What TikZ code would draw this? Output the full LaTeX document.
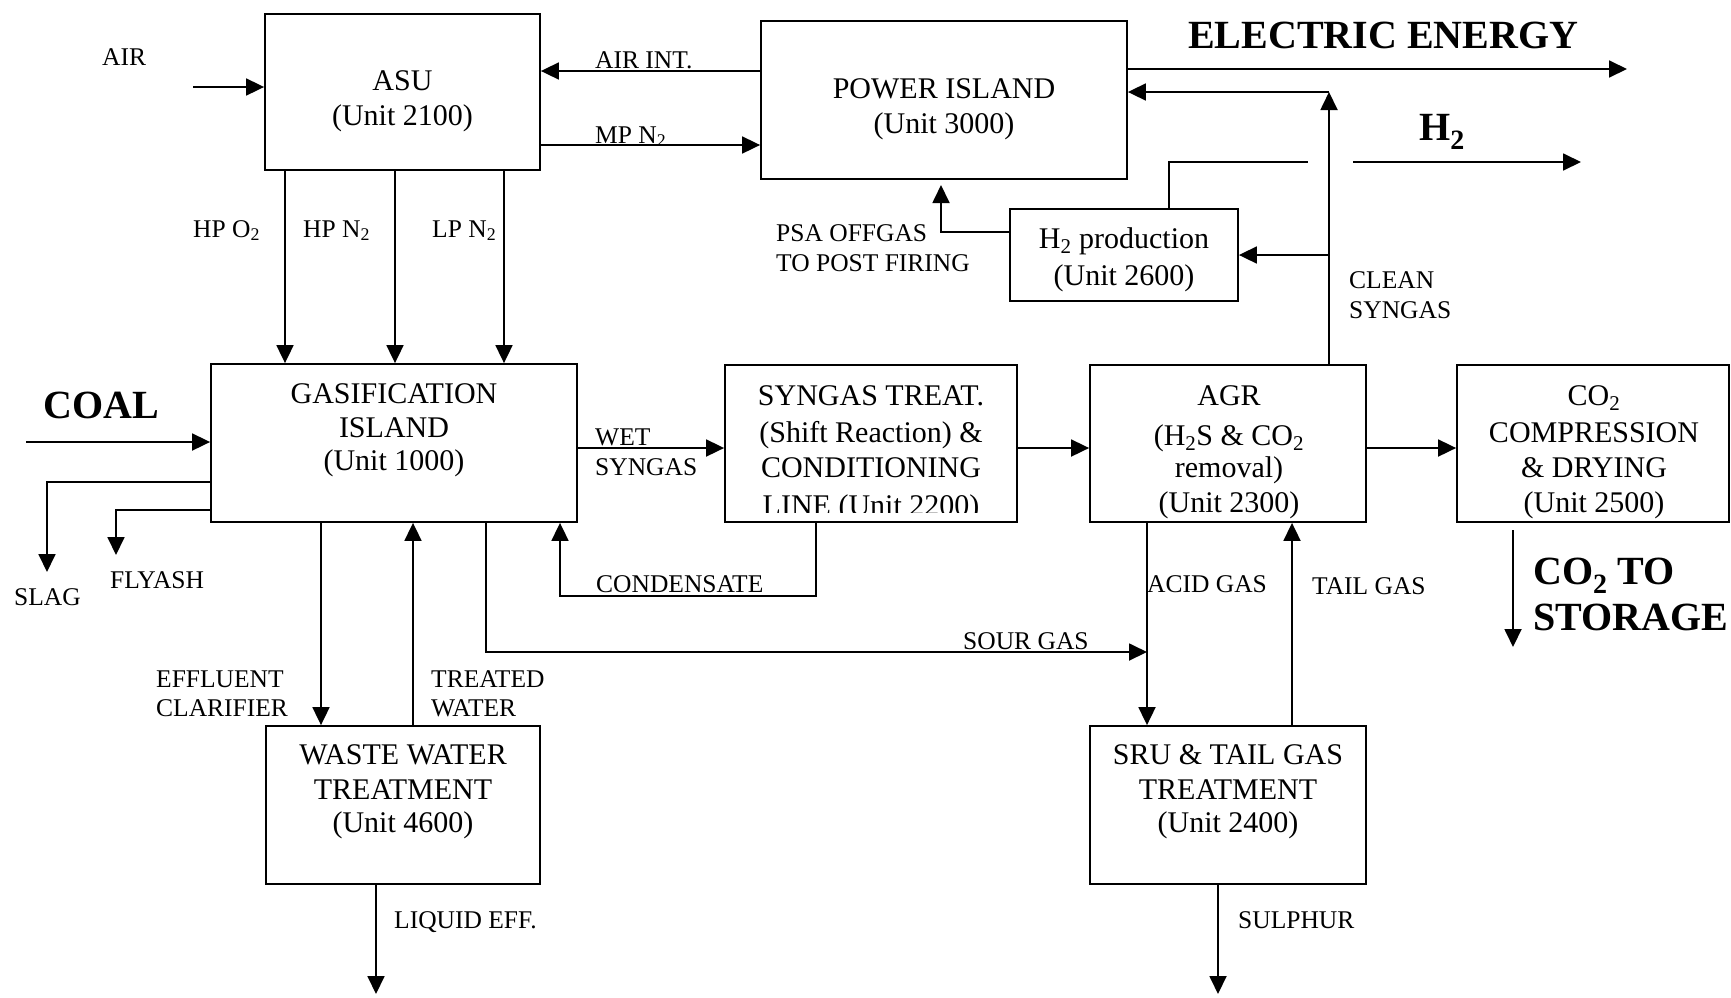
\documentclass[tikz,border=0pt]{standalone}
\usepackage{fontspec}
\setmainfont{Liberation Serif}
\usetikzlibrary{arrows.meta}
\tikzset{
  box/.style={draw, rectangle, line width=1.8pt, inner sep=0pt},
  bt/.style={font=\fontsize{30}{34}\selectfont, anchor=base, inner sep=0pt},
  lt/.style={font=\fontsize{25.5}{30}\selectfont, anchor=base west, inner sep=0pt},
  bigt/.style={font=\fontsize{40}{44}\selectfont\bfseries, anchor=base west, inner sep=0pt},
  ln/.style={line width=1.8pt},
  arr/.style={ln, -{Triangle[length=18pt,width=17pt]}},
}
\begin{document}
\begin{tikzpicture}[x=1pt,y=-1pt]
\useasboundingbox (0,0) rectangle (1731,997);
% boxes
\node[box, minimum width=275pt, minimum height=156pt] (asu) at (402.5,92) {};
\node[box, minimum width=366pt, minimum height=158pt] (power) at (944,100) {};
\node[box, minimum width=228pt, minimum height=92pt] (h2p) at (1124,255) {};
\node[box, minimum width=366pt, minimum height=158pt] (gas) at (394,443) {};
\node[box, minimum width=292pt, minimum height=157pt] (syn) at (871,443.5) {};
\node[box, minimum width=276pt, minimum height=157pt] (agr) at (1228,443.5) {};
\node[box, minimum width=272pt, minimum height=157pt] (co2) at (1593,443.5) {};
\node[box, minimum width=274pt, minimum height=158pt] (wwt) at (403,805) {};
\node[box, minimum width=276pt, minimum height=158pt] (sru) at (1228,805) {};
% box texts
\node[bt] (asuA) at (402.5,90) {ASU};
\node[bt] (asuB) at (402.5,125) {(Unit 2100)};
\node[bt] (powA) at (944,98) {POWER ISLAND};
\node[bt] (powB) at (944,133) {(Unit 3000)};
\node[bt] (h2pA) at (1124,248) {H\textsubscript{2} production};
\node[bt] (h2pB) at (1124,285) {(Unit 2600)};
\node[bt] (gasA) at (394,403) {GASIFICATION};
\node[bt] (gasB) at (394,437) {ISLAND};
\node[bt] (gasC) at (394,470) {(Unit 1000)};
\node[bt] (synA) at (871,405) {SYNGAS TREAT.};
\node[bt] (synB) at (871,442) {(Shift Reaction) \&};
\node[bt] (synC) at (871,477) {CONDITIONING};
\begin{scope}
\clip (725,365) rectangle (1017,512);
\node[bt] (synD) at (871,515) {LINE (Unit 2200)};
\end{scope}
\node[bt] (agrA) at (1229,405) {AGR};
\node[bt] (agrB) at (1229,445) {(H\textsubscript{2}S \& CO\textsubscript{2}};
\node[bt] (agrC) at (1229,477) {removal)};
\node[bt] (agrD) at (1229,512) {(Unit 2300)};
\node[bt] (co2A) at (1594,405) {CO\textsubscript{2}};
\node[bt] (co2B) at (1594,442) {COMPRESSION};
\node[bt] (co2C) at (1594,477) {\& DRYING};
\node[bt] (co2D) at (1594,512) {(Unit 2500)};
\node[bt] (wwtA) at (403,764) {WASTE WATER};
\node[bt] (wwtB) at (403,799) {TREATMENT};
\node[bt] (wwtC) at (403,832) {(Unit 4600)};
\node[bt] (sruA) at (1228,764) {SRU \& TAIL GAS};
\node[bt] (sruB) at (1228,799) {TREATMENT};
\node[bt] (sruC) at (1228,832) {(Unit 2400)};
% labels
\node[lt] (lAir) at (102,65) {AIR};
\node[lt] (lAirInt) at (595,68.5) {AIR INT.};
\node[lt] (lMP) at (595,143) {MP N\textsubscript{2}};
\node[lt] (lHPO) at (193,237) {HP O\textsubscript{2}};
\node[lt] (lHPN) at (303,237) {HP N\textsubscript{2}};
\node[lt] (lLPN) at (432,237) {LP N\textsubscript{2}};
\node[lt] (lPSA1) at (776,241.5) {PSA OFFGAS};
\node[lt] (lPSA2) at (776,271.5) {TO POST FIRING};
\node[lt] (lCS1) at (1349,288.5) {CLEAN};
\node[lt] (lCS2) at (1349,318.5) {SYNGAS};
\node[lt] (lWS1) at (595,445.5) {WET};
\node[lt] (lWS2) at (595,475.5) {SYNGAS};
\node[lt] (lSlag) at (14,605.5) {SLAG};
\node[lt] (lFly) at (110,588.5) {FLYASH};
\node[lt] (lCond) at (596,592.5) {CONDENSATE};
\node[lt] (lEff1) at (156,687.5) {EFFLUENT};
\node[lt] (lEff2) at (156,716.5) {CLARIFIER};
\node[lt] (lTW1) at (431,687.5) {TREATED};
\node[lt] (lTW2) at (431,716.5) {WATER};
\node[lt] (lSour) at (963,649.5) {SOUR GAS};
\node[lt] (lAcid) at (1147,592.5) {ACID GAS};
\node[lt] (lTail) at (1312,594.5) {TAIL GAS};
\node[lt] (lLiq) at (394,928.5) {LIQUID EFF.};
\node[lt] (lSul) at (1238,928.5) {SULPHUR};
\node[bigt] (lEE) at (1188,48) {ELECTRIC ENERGY};
\node[bigt] (lH2) at (1419,140) {H\textsubscript{2}};
\node[bigt] (lCoal) at (43,418) {COAL};
\node[bigt] (lCO2a) at (1533,584) {CO\textsubscript{2} TO};
\node[bigt] (lCO2b) at (1533,630) {STORAGE};
% coordinates
\coordinate (airS) at (193,87);
\coordinate (yAI) at (0,71);
\coordinate (yMP) at (0,145);
\coordinate (xO2) at (285,0);
\coordinate (xHN) at (395,0);
\coordinate (xLN) at (504,0);
\coordinate (yEE) at (0,69);
\coordinate (eeEnd) at (1627,69);
\coordinate (csTop) at (1329,92);
\coordinate (csMid) at (1329,255);
\coordinate (h2a) at (1169,162);
\coordinate (h2b) at (1308,162);
\coordinate (h2c) at (1353,162);
\coordinate (h2d) at (1581,162);
\coordinate (psaC) at (941,232);
\coordinate (psaT) at (941,185);
\coordinate (coalS) at (26,442);
\coordinate (slagC) at (47,482);
\coordinate (slagT) at (47,572);
\coordinate (flyC) at (116,510);
\coordinate (flyT) at (116,555);
\coordinate (yWS) at (0,448);
\coordinate (xEff) at (321,0);
\coordinate (xTW) at (413,0);
\coordinate (condA) at (816,596);
\coordinate (condB) at (560,596);
\coordinate (sourA) at (486,652);
\coordinate (sourB) at (1147,652);
\coordinate (xAcid) at (1147,0);
\coordinate (xTail) at (1292,0);
\coordinate (stoA) at (1513,530);
\coordinate (stoB) at (1513,647);
\coordinate (liqT) at (376,994);
\coordinate (sulT) at (1218,994);
% connectors
\draw[arr] (airS) -- (airS -| asu.west);
\draw[arr] (power.west |- yAI) -- (asu.east |- yAI);
\draw[arr] (asu.east |- yMP) -- (power.west |- yMP);
\draw[arr] (asu.south -| xO2) -- (gas.north -| xO2);
\draw[arr] (asu.south -| xHN) -- (gas.north -| xHN);
\draw[arr] (asu.south -| xLN) -- (gas.north -| xLN);
\draw[arr] (power.east |- yEE) -- (eeEnd);
\draw[arr] (agr.north -| csTop) -- (csTop);
\draw[arr] (csTop) -- (power.east |- csTop);
\draw[arr] (csMid) -- (h2p.east |- csMid);
\draw[ln] (h2p.north -| h2a) -- (h2a) -- (h2b);
\draw[arr] (h2c) -- (h2d);
\draw[arr] (h2p.west |- psaC) -- (psaC) -- (psaT);
\draw[arr] (coalS) -- (coalS -| gas.west);
\draw[arr] (gas.west |- slagC) -- (slagC) -- (slagT);
\draw[arr] (gas.west |- flyC) -- (flyC) -- (flyT);
\draw[arr] (gas.east |- yWS) -- (syn.west |- yWS);
\draw[arr] (syn.east |- yWS) -- (agr.west |- yWS);
\draw[arr] (agr.east |- yWS) -- (co2.west |- yWS);
\draw[arr] (gas.south -| xEff) -- (wwt.north -| xEff);
\draw[arr] (wwt.north -| xTW) -- (gas.south -| xTW);
\draw[arr] (syn.south -| condA) -- (condA) -- (condB) -- (gas.south -| condB);
\draw[arr] (gas.south -| sourA) -- (sourA) -- (sourB);
\draw[arr] (agr.south -| xAcid) -- (sru.north -| xAcid);
\draw[arr] (sru.north -| xTail) -- (agr.south -| xTail);
\draw[arr] (stoA) -- (stoB);
\draw[arr] (wwt.south -| liqT) -- (liqT);
\draw[arr] (sru.south -| sulT) -- (sulT);
\end{tikzpicture}
\end{document}
